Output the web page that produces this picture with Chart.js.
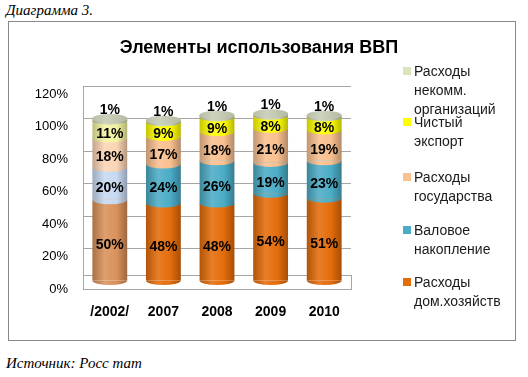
<!DOCTYPE html>
<html>
<head>
<meta charset="utf-8">
<script src="https://cdn.jsdelivr.net/npm/chart.js@4.4.1/dist/chart.umd.min.js"></script>
<style>
    body { margin: 0; background: #fff; width: 528px; height: 377px; position: relative; overflow: hidden; }
    .note { position: absolute; left: 6px; font-family: "Liberation Serif", serif; font-style: italic; font-size: 15px; color: #000; }
    #box { position: absolute; left: 8px; top: 21px; width: 508px; height: 320px; border: 1px solid #888; box-sizing: border-box; }
    #chartWrap { position: absolute; left: 9px; top: 22px; width: 505px; height: 317px; }
    #title { position: absolute; left: 109px; width: 300px; top: 36px; text-align: center; font-family: "Liberation Sans", sans-serif; font-weight: bold; font-size: 18px; line-height: 22px; color: #000; }
    .lg { position: absolute; left: 403px; font-family: "Liberation Sans", sans-serif; font-size: 14px; line-height: 19px; color: #1a1a1a; }
    .lg i { position: absolute; left: 0; top: 5px; width: 8px; height: 8px; }
    .lg span { display: block; margin-left: 11px; }
</style>
</head>
<body>
<div class="note" style="top:2px">Диаграмма 3.</div>
<div id="box"></div>
<div id="chartWrap"><canvas id="gdpChart" width="505" height="317"></canvas></div>
<div id="title">Элементы использования ВВП</div>
<div id="legend"></div>
<div class="note" style="top:355px">Источник: Росс тат</div>

<script>
/* ===== Data ===== */
const categories = ['/2002/', '2007', '2008', '2009', '2010'];
const households   = [50, 48, 48, 54, 51];
const accumulation = [20, 24, 26, 19, 23];
const government   = [18, 17, 18, 21, 19];
const netExport    = [11, 9, 9, 8, 8];
const nonProfit    = [1, 1, 1, 1, 1];
const yTicks = [0, 20, 40, 60, 80, 100, 120];

const seriesNames = [
    ['Расходы', 'дом.хозяйств'],
    ['Валовое', 'накопление'],
    ['Расходы', 'государства'],
    ['Чистый', 'экспорт'],
    ['Расходы', 'некомм.', 'организаций'],
];
const seriesData = [households, accumulation, government, netExport, nonProfit];
// main colour, and the faded one used for the first (/2002/) bar
const mainColors  = ['#E46C0A', '#4BACC6', '#F9BF8F', '#FFFF00', '#C9CFB7'];
const fadedColors = ['#D9915A', '#C6D9F1', '#FBD4B4', '#F3F3A2', '#C9CFB7'];
const legendColors = ['#E46C0A', '#4BACC6', '#FAC090', '#FFFF00', '#D7E4BD'];

const BAR_PCT = 0.65;
const RY = 4.5; // ellipse half-height of the cylinder caps

function shade(hex, amt) {
    const n = parseInt(hex.slice(1), 16);
    let r = n >> 16, g = (n >> 8) & 255, b = n & 255;
    const t = amt < 0 ? 0 : 255, p = Math.abs(amt);
    r = Math.round(r + (t - r) * p); g = Math.round(g + (t - g) * p); b = Math.round(b + (t - b) * p);
    return `rgb(${r},${g},${b})`;
}

function cylFill(ctx, base) {
    const chart = ctx.chart, area = chart.chartArea;
    if (!area) return base;
    const cx = chart.scales.x.getPixelForValue(ctx.dataIndex);
    const w = (area.right - area.left) / categories.length * BAR_PCT;
    const g = chart.ctx.createLinearGradient(cx - w / 2, 0, cx + w / 2, 0);
    g.addColorStop(0, shade(base, -0.22));
    g.addColorStop(0.35, shade(base, 0.12));
    g.addColorStop(0.7, base);
    g.addColorStop(1, shade(base, -0.28));
    return g;
}

const datasets = seriesData.map((d, i) => ({
    label: seriesNames[i].join(' '),
    data: d,
    backgroundColor: ctx => cylFill(ctx, ctx.dataIndex === 0 ? fadedColors[i] : mainColors[i]),
    borderWidth: 0,
    barPercentage: BAR_PCT,
    categoryPercentage: 1,
}));

// floor box under the bars
const floorPlugin = {
    id: 'floor',
    beforeDatasetsDraw(chart) {
        const { ctx, chartArea: a, scales: { y } } = chart;
        const y0 = y.getPixelForValue(0);
        ctx.save();
        ctx.fillStyle = '#fff';
        ctx.strokeStyle = '#A6A6A6';
        ctx.lineWidth = 1;
        ctx.fillRect(a.left, y0 - 6, a.right - a.left, 14);
        ctx.strokeRect(a.left + 0.5, y0 - 5.5, a.right - a.left, 14);
        ctx.restore();
    }
};

// cylinder caps + value labels
const cylinderPlugin = {
    id: 'cylinder',
    afterDatasetsDraw(chart) {
        const ctx = chart.ctx;
        const n = chart.data.datasets.length;
        ctx.save();
        for (let di = 0; di < n; di++) {
            chart.getDatasetMeta(di).data.forEach(el => {
                ctx.beginPath();
                ctx.ellipse(el.x, el.base, el.width / 2, RY, 0, 0, Math.PI);
                ctx.fillStyle = el.options.backgroundColor;
                ctx.fill();
            });
        }
        chart.getDatasetMeta(n - 1).data.forEach(el => {
            const g = ctx.createLinearGradient(el.x - el.width / 2, 0, el.x + el.width / 2, 0);
            g.addColorStop(0, '#B9BEA8');
            g.addColorStop(0.4, '#CDD2BE');
            g.addColorStop(1, '#B5BAA3');
            ctx.beginPath();
            ctx.ellipse(el.x, el.y, el.width / 2, RY, 0, 0, Math.PI * 2);
            ctx.fillStyle = g;
            ctx.fill();
        });
        ctx.font = 'bold 14px "Liberation Sans", sans-serif';
        ctx.fillStyle = '#000';
        ctx.textAlign = 'center';
        ctx.textBaseline = 'middle';
        for (let di = 0; di < n; di++) {
            chart.getDatasetMeta(di).data.forEach((el, i) => {
                const v = chart.data.datasets[di].data[i] + '%';
                const yy = di === n - 1 ? el.y - 8 : (el.y + el.base) / 2 + 5;
                ctx.fillText(v, el.x, yy);
            });
        }
        ctx.restore();
    }
};

new Chart(document.getElementById('gdpChart'), {
    type: 'bar',
    data: { labels: categories, datasets },
    options: {
        responsive: false,
        animation: false,
        layout: { padding: { top: 64, right: 163, bottom: 0, left: 0 } },
        plugins: {
            legend: { display: false },
            tooltip: { enabled: false },
        },
        scales: {
            x: {
                stacked: true,
                grid: { display: false, drawTicks: false },
                border: { display: false },
                ticks: { color: '#000', padding: 23, font: { family: '"Liberation Sans", sans-serif', size: 14, weight: 'bold' } },
                afterFit: s => { s.height = 58; },
            },
            y: {
                stacked: true,
                min: 0,
                max: 120,
                afterBuildTicks: s => { s.ticks = yTicks.map(v => ({ value: v })); },
                grid: { color: '#A6A6A6', drawTicks: false },
                border: { display: true, color: '#A6A6A6' },
                ticks: {
                    color: '#000', padding: 15, labelOffset: 8,
                    font: { family: '"Liberation Sans", sans-serif', size: 13 },
                    callback: v => v + '%',
                },
                afterFit: s => { s.width = 74; },
            },
        },
    },
    plugins: [floorPlugin, cylinderPlugin],
});

// legend on the right, top entry first (as in the picture)
const legendTops = [273, 221, 168, 113, 62];
document.getElementById('legend').innerHTML = seriesNames.map((lines, i) =>
    `<div class="lg" style="top:${legendTops[i]}px"><i style="background:${legendColors[i]}"></i>${lines.map(t => `<span>${t}</span>`).join('')}</div>`
).join('');
</script>
</body>
</html>
